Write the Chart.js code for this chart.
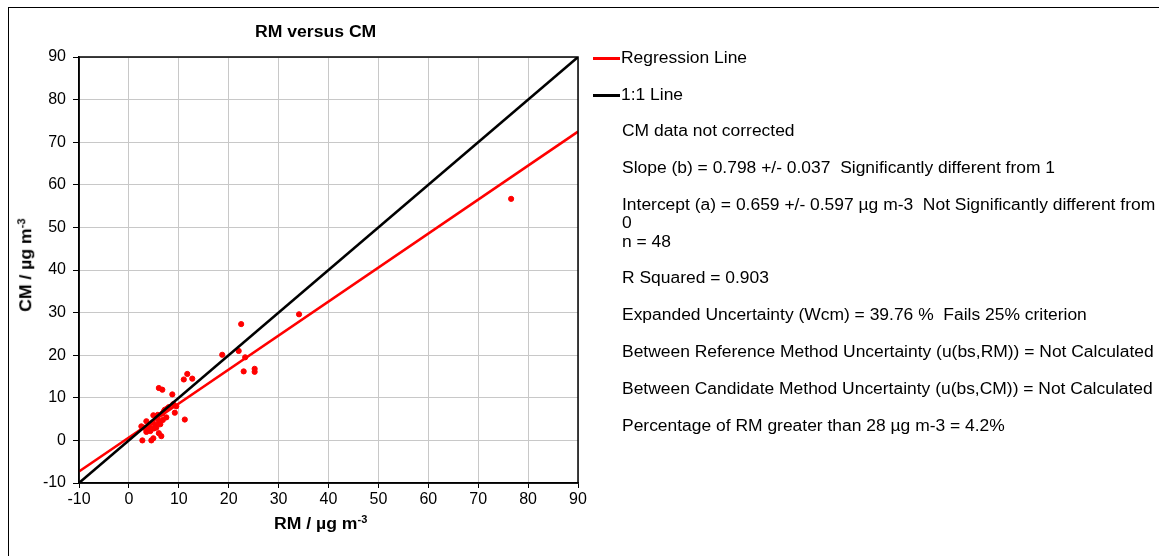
<!DOCTYPE html>
<html>
<head>
<meta charset="utf-8">
<script src="https://cdn.jsdelivr.net/npm/chart.js@4"></script>
<style>
  html, body { margin: 0; padding: 0; background: #fff; }
  #wrap { position: relative; width: 1159px; height: 556px; overflow: hidden; font-family: "Liberation Sans", Arial, sans-serif; color: #000; }
  #frame { position: absolute; left: 8px; top: 7px; width: 1200px; height: 600px; border-left: 1px solid #000; border-top: 1px solid #000; }
  canvas { position: absolute; left: 0; top: 0; }
  .t { position: absolute; white-space: nowrap; font-size: 16px; line-height: 18px; transform: scaleX(1.09); transform-origin: left top; }
  .b { font-weight: bold; }
  .key { position: absolute; width: 27px; height: 3px; }
</style>
</head>
<body>
<div id="wrap">
  <div id="frame"></div>
  <canvas id="rmcm" width="1159" height="556"></canvas>
  <div class="t b" style="left:255px; top:23px; transform: scaleX(1.1);">RM versus CM</div>
  <div class="t b" style="left:274px; top:511px; transform: scaleX(1.1);">RM / µg m<sup style="font-size:10px;">-3</sup></div>
  <div class="t b" style="left:-18px; top:254px; transform-origin: center; transform: rotate(-90deg) scaleX(1.1);">CM / µg m<sup style="font-size:10px;">-3</sup></div>

  <div class="key" style="left:593px; top:57px; background:#ff0000;"></div>
  <div class="t" style="left:621px; top:49px;">Regression Line</div>
  <div class="key" style="left:593px; top:94px; background:#000;"></div>
  <div class="t" style="left:621px; top:86px;">1:1 Line</div>

  <div class="t" style="left:622px; top:122px;">CM data not corrected</div>
  <div class="t" style="left:622px; top:159px;">Slope (b) = 0.798 +/- 0.037&nbsp; Significantly different from 1</div>
  <div class="t" style="left:622px; top:196px;">Intercept (a) = 0.659 +/- 0.597 µg m-3&nbsp; Not Significantly different from<br>0</div>
  <div class="t" style="left:622px; top:233px;">n = 48</div>
  <div class="t" style="left:622px; top:269px;">R Squared = 0.903</div>
  <div class="t" style="left:622px; top:306px;">Expanded Uncertainty (Wcm) = 39.76 %&nbsp; Fails 25% criterion</div>
  <div class="t" style="left:622px; top:343px;">Between Reference Method Uncertainty (u(bs,RM)) = Not Calculated</div>
  <div class="t" style="left:622px; top:380px;">Between Candidate Method Uncertainty (u(bs,CM)) = Not Calculated</div>
  <div class="t" style="left:622px; top:417px;">Percentage of RM greater than 28 µg m-3 = 4.2%</div>
</div>
<script>
// measured pairs, RM on x, CM on y (µg m-3)
const rmValues = [76.6, 34.1, 22.5, 18.7, 22.0, 23.3, 23.0, 25.2, 25.2, 11.7,
                  11.0, 12.7, 6.0, 6.7, 8.7, 8.9, 9.2, 7.7, 7.2, 6.7,
                  7.5, 11.2, 4.9, 5.7, 6.0, 5.3, 3.5, 4.1, 2.5, 3.7,
                  4.3, 3.5, 6.0, 6.5, 4.9, 4.5, 2.7, 5.5, 4.8, 6.3,
                  5.0, 3.0, 7.0, 8.0, 5.8, 4.0, 6.8, 9.5];
const cmValues = [56.7, 29.6, 27.3, 20.1, 21.0, 19.5, 16.2, 16.8, 16.1, 15.6,
                  14.3, 14.5, 12.3, 11.9, 10.8, 8.5, 6.5, 7.5, 7.2, 6.3,
                  5.4, 4.9, 5.9, 5.5, 4.5, 3.6, 4.5, 3.6, 3.3, 2.6,
                  2.2, 2.0, 1.7, 1.0, 0.5, 0.0, 0.0, 3.0, 4.2, 3.8,
                  2.8, 3.0, 6.8, 7.8, 6.0, 3.0, 4.8, 8.0];

const lineX = [-10, 90];
const regressionY = [-7.32, 72.48];
const oneToOneY = [-10, 90];

const xTicks = [-10, 0, 10, 20, 30, 40, 50, 60, 70, 80, 90];
const yTicks = [-10, 0, 10, 20, 30, 40, 50, 60, 70, 80, 90];

const points = rmValues.map((x, i) => ({ x: x, y: cmValues[i] }));
const regLine = lineX.map((x, i) => ({ x: x, y: regressionY[i] }));
const oneLine = lineX.map((x, i) => ({ x: x, y: oneToOneY[i] }));

const boxPlugin = {
  id: 'box',
  afterDraw(chart) {
    const a = chart.chartArea, ctx = chart.ctx;
    ctx.save();
    ctx.strokeStyle = '#000';
    ctx.lineWidth = 1.5;
    ctx.strokeRect(a.left, a.top, a.right - a.left, a.bottom - a.top);
    ctx.restore();
  }
};

const tickFont = { family: 'Liberation Sans', size: 16 };

new Chart(document.getElementById('rmcm'), {
  type: 'scatter',
  data: {
    datasets: [
      {
        label: 'Regression Line',
        type: 'line',
        data: regLine,
        borderColor: '#ff0000',
        borderWidth: 2.5,
        pointRadius: 0,
        order: 2
      },
      {
        label: '1:1 Line',
        type: 'line',
        data: oneLine,
        borderColor: '#000000',
        borderWidth: 2.5,
        pointRadius: 0,
        order: 1
      },
      {
        label: 'RM vs CM',
        data: points,
        backgroundColor: '#ff0000',
        borderColor: '#ff0000',
        pointRadius: 2.6,
        order: 3
      }
    ]
  },
  plugins: [boxPlugin],
  options: {
    responsive: false,
    animation: false,
    layout: { padding: { left: 29, top: 57, right: 581, bottom: 33 } },
    plugins: { legend: { display: false }, tooltip: { enabled: false } },
    scales: {
      x: {
        type: 'linear',
        min: -10, max: 90,
        afterBuildTicks: (s) => { s.ticks = xTicks.map(v => ({ value: v })); },
        afterFit: (s) => { s.height = 40; },
        grid: { color: '#c8c8c8', tickColor: '#000', tickLength: 5 },
        border: { color: '#000', width: 1.5 },
        ticks: { color: '#000', font: tickFont, padding: 2, maxRotation: 0 }
      },
      y: {
        type: 'linear',
        min: -10, max: 90,
        afterBuildTicks: (s) => { s.ticks = yTicks.map(v => ({ value: v })); },
        afterFit: (s) => { s.width = 50; },
        grid: { color: '#c8c8c8', tickColor: '#000', tickLength: 6 },
        border: { color: '#000', width: 1.5 },
        ticks: { color: '#000', font: tickFont, padding: 7 }
      }
    }
  }
});
</script>
</body>
</html>
